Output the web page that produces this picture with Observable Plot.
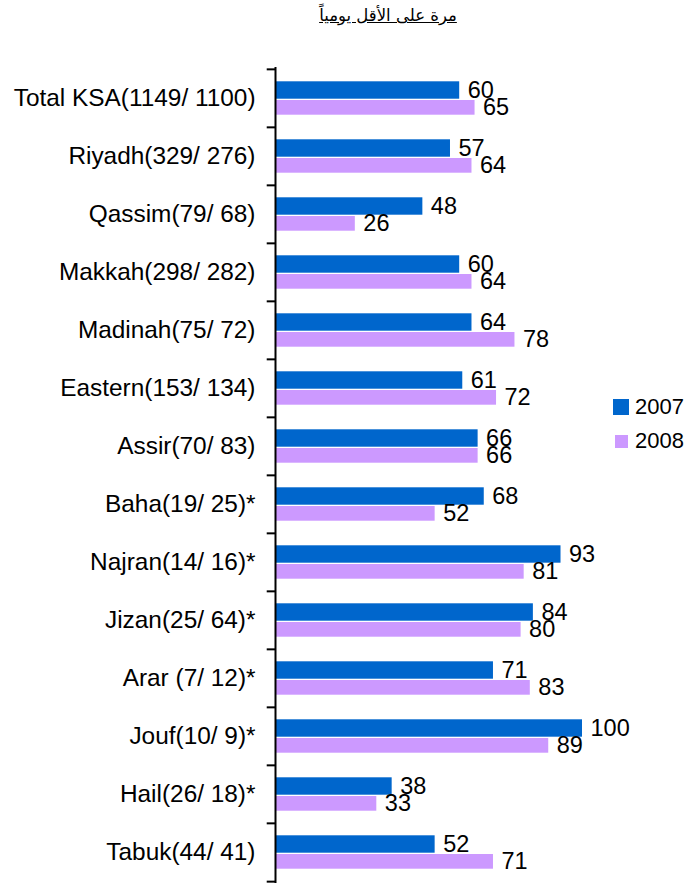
<!DOCTYPE html>
<html>
<head>
<meta charset="utf-8">
<script src="https://cdn.jsdelivr.net/npm/d3@7"></script>
<script src="https://cdn.jsdelivr.net/npm/@observablehq/plot@0.6"></script>
<style>
  body { margin: 0; background: #fff; }
  #wrap { position: relative; width: 686px; height: 884px; overflow: hidden; font-family: "Liberation Sans", Arial, sans-serif; }
  #title { position: absolute; left: 268px; width: 240px; top: 6px; text-align: center; font-family: "DejaVu Sans", sans-serif; font-size: 16.5px; text-decoration: underline; direction: rtl; }
  #chart { position: absolute; left: 0; top: 0; }
  .leg { position: absolute; left: 613px; display: flex; align-items: center; font-size: 22px; }
  .sw { display: inline-block; margin-right: 6px; }
</style>
</head>
<body>
<div id="wrap">
  <div id="chart"></div>
  <div id="title">مرة على الأقل يومياً</div>
  <div class="leg" style="top:394px"><span class="sw" style="width:16px;height:16px;background:#0066CC"></span>2007</div>
  <div class="leg" style="top:428px"><span class="sw" style="width:13px;height:13px;background:#CC99FF;margin-left:2px;margin-right:7px"></span>2008</div>
</div>
<script>
const categories = ["Total KSA(1149/ 1100)", "Riyadh(329/ 276)", "Qassim(79/ 68)", "Makkah(298/ 282)", "Madinah(75/ 72)", "Eastern(153/ 134)", "Assir(70/ 83)", "Baha(19/ 25)*", "Najran(14/ 16)*", "Jizan(25/ 64)*", "Arar (7/ 12)*", "Jouf(10/ 9)*", "Hail(26/ 18)*", "Tabuk(44/ 41)"];
const values2007 = [60, 57, 48, 60, 64, 61, 66, 68, 93, 84, 71, 100, 38, 52];
const values2008 = [65, 64, 26, 64, 78, 72, 66, 52, 81, 80, 83, 89, 33, 71];
const years = ["2007", "2008"];
const colors = ["#0066CC", "#CC99FF"];

const rows2007 = categories.map((c, i) => ({region: c, year: years[0], value: values2007[i]}));
const rows2008 = categories.map((c, i) => ({region: c, year: years[1], value: values2008[i]}));

const chart = Plot.plot({
  width: 686,
  height: 884,
  marginTop: 67,
  marginBottom: 1,
  marginLeft: 275,
  marginRight: 104,
  style: {fontFamily: "'Liberation Sans', Arial, sans-serif", fontSize: "24px", color: "black", background: "transparent"},
  x: {domain: [0, 100], axis: null},
  y: {domain: categories, padding: 0, axis: null, label: null},
  marks: [
    Plot.barX(rows2007, {x: "value", y: "region", fill: colors[0], insetTop: 12.3, insetBottom: 28.3}),
    Plot.barX(rows2008, {x: "value", y: "region", fill: colors[1], insetTop: 31, insetBottom: 12.3}),
    Plot.text(rows2007, {x: "value", y: "region", text: d => String(d.value), textAnchor: "start", dx: 8, dy: -8, fontSize: 23.5, fill: "black"}),
    Plot.text(rows2008, {x: "value", y: "region", text: d => String(d.value), textAnchor: "start", dx: 8, dy: 9.3, fontSize: 23.5, fill: "black"}),
    Plot.ruleX([0], {stroke: "black", strokeWidth: 2}),
    Plot.ruleY(categories, {y: d => d, x1: -2.7, x2: 0, dy: -29.15, stroke: "black", strokeWidth: 2}),
    Plot.ruleY([categories[categories.length - 1]], {y: d => d, x1: -2.7, x2: 0, dy: 29.15, stroke: "black", strokeWidth: 2}),
    Plot.axisY({tickSize: 0, tickPadding: 20, fontSize: 24.4, label: null})
  ]
});
document.getElementById("chart").appendChild(chart);
</script>
</body>
</html>
